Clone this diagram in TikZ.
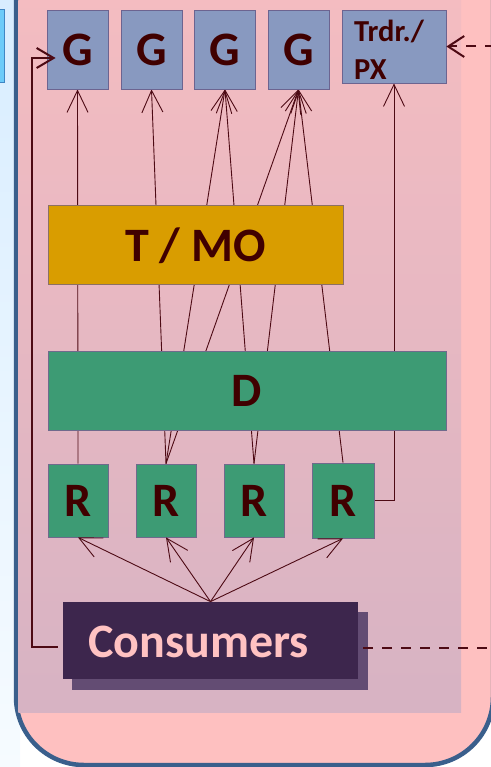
\documentclass[tikz,border=0pt]{standalone}
\usepackage{fontspec}
\setmainfont{Carlito}
\usetikzlibrary{arrows.meta}
\pgfdeclarelayer{back}
\pgfdeclarelayer{lines}
\pgfsetlayers{back,lines,main}
\definecolor{pinkbg}{HTML}{FEC0C0}
\definecolor{innerTop}{HTML}{F4BCC1}
\definecolor{innerBot}{HTML}{D7B3C3}
\definecolor{frame}{HTML}{3A5F8C}
\definecolor{leftTop}{HTML}{D8EDFF}
\definecolor{leftBot}{HTML}{F6FBFF}
\definecolor{lbox}{HTML}{6CCBF9}
\definecolor{lboxb}{HTML}{3F86C4}
\definecolor{gfill}{HTML}{8899C0}
\definecolor{gborder}{HTML}{6C6490}
\definecolor{tmofill}{HTML}{D99D00}
\definecolor{tmoborder}{HTML}{8C7064}
\definecolor{dfill}{HTML}{3D9B74}
\definecolor{dborder}{HTML}{6F6A8C}
\definecolor{cfill}{HTML}{3D264D}
\definecolor{cshadow}{HTML}{634C73}
\definecolor{ctext}{HTML}{FFC2C2}
\definecolor{dark}{HTML}{400000}
\definecolor{wire}{HTML}{4D0A14}
\begin{document}
\begin{tikzpicture}[x=1pt,y=-1pt,
  box/.style={line width=0.8pt, inner sep=0pt, text=dark, font=\fontsize{48pt}{48pt}\selectfont\bfseries},
  gbox/.style={box, draw=gborder, fill=gfill, minimum width=61pt, minimum height=79pt},
  rbox/.style={box, draw=dborder, fill=dfill, minimum width=60pt, minimum height=73pt},
  conn/.style={draw=wire, line width=0.9pt, -{Straight Barb[length=22pt,width=21pt]}},
  fbwire/.style={draw=wire, line width=2pt},
  dashwire/.style={draw=wire, line width=2pt, dash pattern=on 10pt off 9pt},
]
\useasboundingbox (0,0) rectangle (490,767);
\begin{pgfonlayer}{back}
  \shade[top color=leftTop, bottom color=leftBot] (0,0) rectangle (20,767);
  \draw[fill=lbox, draw=lboxb, line width=1pt] (-10,10) rectangle (4.5,82.5);
  \draw[line width=4.5pt, draw=frame, fill=pinkbg, rounded corners=68pt] (16,-100) rectangle (493,765);
  \shade[top color=innerTop, bottom color=innerBot] (18.3,-5) rectangle (461,712);
\end{pgfonlayer}

% top row
\node[gbox] (G1) at (77.5,49.5) {G};
\node[gbox] (G2) at (151.5,49.5) {G};
\node[gbox] (G3) at (225,49.5) {G};
\node[gbox] (G4) at (298.5,49.5) {G};
\node[box, draw=gborder, fill=gfill, minimum width=104pt, minimum height=73pt] (PX) at (394,46.5) {};
\node[anchor=base west, align=left, inner sep=0pt, text=dark, font=\fontsize{30.5pt}{38pt}\selectfont\bfseries] (PXt) at (354,80) {Trdr./\\PX};

% middle
\node[box, draw=tmoborder, fill=tmofill, minimum width=295pt, minimum height=79pt, text depth=0pt] (TMO) at (195.5,244.5) {T / MO};
\node[box, draw=dborder, fill=dfill, minimum width=398pt, minimum height=79pt] (D) at (247,390.5) {D};

% R row
\node[rbox] (R1) at (78,500.5) {R};
\node[rbox] (R2) at (166,500.5) {R};
\node[rbox] (R3) at (254,500.5) {R};
\node[rbox, minimum width=62pt, minimum height=75pt] (R4) at (343,500.5) {R};

% consumers
\node[box, fill=cfill, minimum width=295pt, minimum height=77pt] (C) at (210.5,640.5) {};
\node[anchor=base, inner sep=0pt, text=ctext, font=\fontsize{48pt}{48pt}\selectfont\bfseries] (Ct) at (198.5,657) {Consumers};

\begin{pgfonlayer}{lines}
  \fill[cshadow] ([shift={(9.5,10.5)}]C.north west) rectangle ([shift={(9.5,10.5)}]C.south east);
  \draw[conn] (R1.north) -- (G1.south);
  \draw[conn] (R2.north) -- (G2.south);
  \draw[conn] (R2.north) -- (G3.south);
  \draw[conn] (R2.north) -- (G4.south);
  \draw[conn] (R3.north) -- (G3.south);
  \draw[conn] (R3.north) -- (G4.south);
  \draw[conn] (R4.north) -- (G4.south);
  \draw[conn] (R4.east) -| (PX.south);
\end{pgfonlayer}

% consumers to retailers
\draw[conn] (C.north) -- (R1.south);
\draw[conn] (C.north) -- (R2.south);
\draw[conn] (C.north) -- (R3.south);
\draw[conn] (C.north) -- (R4.south);

% feedback line to first G
\draw[fbwire, -{Straight Barb[length=17pt,width=20pt]}, shorten >=-9pt]
  ([shift={(-5,6.5)}]C.west) -- ++(-26,0) |- ([shift={(0,8.5)}]G1.west);

% dashed lines to the right
\coordinate (dashR) at (495,648);
\coordinate (dashT) at (495,46.5);
\draw[dashwire] ([shift={(5,7.5)}]C.east) -- (dashR);
\draw[dashwire, -{Straight Barb[length=16pt,width=21pt]}] (dashT) -- (PX.east);
\end{tikzpicture}
\end{document}
